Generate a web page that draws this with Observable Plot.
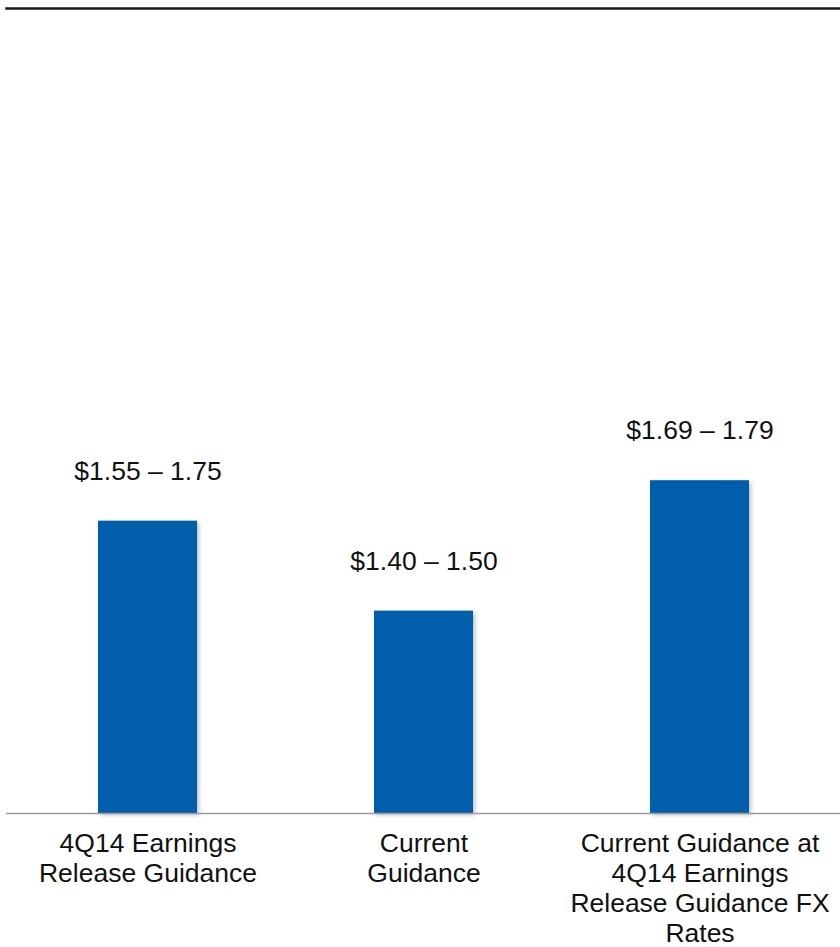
<!DOCTYPE html>
<html>
<head>
<meta charset="utf-8">
<script src="https://cdn.jsdelivr.net/npm/d3@7"></script>
<script src="https://cdn.jsdelivr.net/npm/@observablehq/plot@0.6"></script>
<style>
  html, body { margin: 0; padding: 0; background: #fff; }
  #chart svg { display: block; }
</style>
</head>
<body>
<div id="chart"></div>
<script>
const categories = [
  "4Q14 Earnings\nRelease Guidance",
  "Current\nGuidance",
  "Current Guidance at\n4Q14 Earnings\nRelease Guidance FX\nRates"
];
const lows = [1.55, 1.40, 1.69];
const highs = [1.75, 1.50, 1.79];
const rangeLabels = ["$1.55 – 1.75", "$1.40 – 1.50", "$1.69 – 1.79"];

const data = categories.map((c, i) => ({
  cat: c,
  low: lows[i],
  high: highs[i],
  mid: (lows[i] + highs[i]) / 2,
  label: rangeLabels[i]
}));

const chart = Plot.plot({
  width: 840,
  height: 947,
  marginTop: 8,
  marginBottom: 134,
  marginLeft: 6,
  marginRight: 0,
  style: { fontFamily: "'Liberation Sans', Arial, sans-serif", fontSize: "26px", background: "#fff", color: "#000" },
  x: { domain: categories, range: [9.5, 837.5], paddingInner: 0.64, paddingOuter: 0.32, axis: null },
  y: { domain: [1, 2.79], axis: null },
  marks: [
    Plot.frame({ anchor: "top", stroke: "#1a1a1a", strokeWidth: 2.5 }),
    Plot.barY(data, { x: "cat", y1: 1, y2: "mid", fill: "#005EAA" }),
    Plot.ruleY([1], { stroke: "#9a9a9a", strokeWidth: 1.5 }),
    Plot.text(data, { x: "cat", y: "mid", text: "label", dy: -50, fontSize: 26.5, fill: "#111" }),
    Plot.axisX({ tickSize: 0, tickPadding: 17, fontSize: 26.5, lineHeight: 1.13, fill: "#111", label: null })
  ]
});

chart.querySelectorAll("g[aria-label='bar'] rect").forEach(r => {
  r.style.filter = "drop-shadow(2px 2px 2px rgba(0,0,0,0.25))";
});

document.getElementById("chart").appendChild(chart);
</script>
</body>
</html>
